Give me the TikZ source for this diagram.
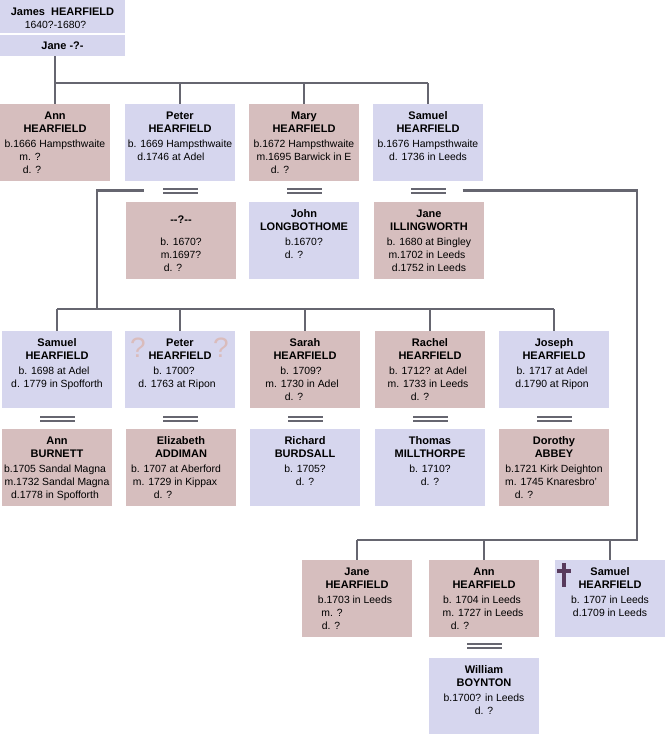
\documentclass[tikz,border=0pt]{standalone}
\usepackage{fontspec}
\setmainfont{Liberation Sans}
\usetikzlibrary{positioning}
\definecolor{GirlPink}{RGB}{214,190,190}
\definecolor{BoyBlue}{RGB}{214,214,238}
\definecolor{LineGray}{RGB}{102,102,112}
\definecolor{CrossPurple}{RGB}{88,58,92}
\definecolor{QueryPink}{RGB}{218,188,188}
\tikzset{
  pbox/.style={minimum width=110pt, minimum height=77pt, inner sep=0pt, outer sep=0pt},
  girl/.style={pbox, fill=GirlPink},
  boy/.style={pbox, fill=BoyBlue},
  pname/.style={anchor=base, inner sep=0pt, font=\bfseries\fontsize{11}{13}\selectfont},
  pinfo/.style={anchor=base, inner sep=0pt, font=\fontsize{10.4}{13}\selectfont},
  link/.style={draw=LineGray, line width=2.8pt},
  wed/.style={minimum width=35pt, minimum height=6pt, inner sep=0pt, outer sep=0pt},
  query/.style={inner sep=0pt, text=QueryPink, font=\fontsize{28}{28}\selectfont},
}
% box: name, colour, left, top, name lines, detail lines (text/shift)
\newcommand\person[6]{%
  \node[#2] (#1) at (#3+55,#4+38.5) {};
  \foreach \txt [count=\i] in {#5}
    \node[pname] (#1-n\i) at ([shift={(0,2.5+13*\i)}]#1.north) {\txt};
  \foreach \txt/\dx [count=\i] in {#6}
    \node[pinfo] (#1-d\i) at ([shift={(\dx,30.6+13*\i)}]#1.north) {\txt};
}
% double bar for a marriage
\newcommand\wedding[3]{%
  \node[wed] (#1) at (#2,#3) {};
  \fill[LineGray] (#1.north west) rectangle ([yshift=-2pt]#1.north east);
  \fill[LineGray] (#1.south west) rectangle ([yshift=2pt]#1.south east);
}

\begin{document}
\begin{tikzpicture}[x=1pt, y=-1pt]
  \useasboundingbox[fill=white] (0,0) rectangle (666,734);

  % parents
  \node[boy, minimum width=125pt, minimum height=33pt] (james) at (62.5,16.5) {};
  \node[pname] (james-n) at (62.5,15) {James\ \ HEARFIELD};
  \node[pinfo] (james-d) at (55.5,28) {1640?-1680?};
  \node[boy, minimum width=125pt, minimum height=21pt] (jane) at (62.5,45.5) {};
  \node[pname] (jane-n) at (62.5,49.5) {Jane -?-};

  % children of James
  \person{ann1}{girl}{0}{104}{Ann,HEARFIELD}{b.1666 Hampsthwaite/0,m. ?/-25,d. ?/-23}
  \person{pet1}{boy}{125}{104}{Peter,HEARFIELD}{b. 1669 Hampsthwaite/0,d.1746 at Adel/-9}
  \person{mar1}{girl}{249}{104}{Mary,HEARFIELD}{b.1672 Hampsthwaite/0,m.1695 Barwick in E/0,d. ?/-24}
  \person{sam1}{boy}{373}{104}{Samuel,HEARFIELD}{b.1676 Hampsthwaite/0,d. 1736 in Leeds/0}

  \wedding{wedP}{180}{190.5}
  \wedding{wedM}{304}{190.5}
  \wedding{wedS}{428}{190.5}

  % spouses
  \person{unk}{girl}{126}{202}{}{b. 1670?/0,m.1697?/0,d. ?/-8}
  \node[pname] (unk-q) at ([shift={(0,21)}]unk.north) {{-}{-}?{-}{-}};
  \person{lon}{boy}{249}{202}{John,LONGBOTHOME}{b.1670?/0,d. ?/-10}
  \person{ill}{girl}{374}{202}{Jane,ILLINGWORTH}{b. 1680 at Bingley/0,m.1702 in Leeds/-2,d.1752 in Leeds/0}

  % children of Peter
  \person{sam3}{boy}{2}{331}{Samuel,HEARFIELD}{b. 1698 at Adel/-3,d. 1779 in Spofforth/0}
  \person{pet3}{boy}{125}{331}{Peter,HEARFIELD}{b. 1700?/-6,d. 1763 at Ripon/-3}
  \person{sar3}{girl}{250}{331}{Sarah,HEARFIELD}{b. 1709?/-4,m. 1730 in Adel/-3,d. ?/-11}
  \person{rac3}{girl}{375}{331}{Rachel,HEARFIELD}{b. 1712? at Adel/-2,m. 1733 in Leeds/-2,d. ?/-10}
  \person{jos3}{boy}{499}{331}{Joseph,HEARFIELD}{b. 1717 at Adel/-2,d.1790 at Ripon/-2}
  \node[query] (q1) at ([shift={(13,17)}]pet3.north west) {?};
  \node[query] (q2) at ([shift={(96,17)}]pet3.north west) {?};

  \wedding{wed1}{57}{419}
  \wedding{wed2}{180}{419}
  \wedding{wed3}{305}{419}
  \wedding{wed4}{430}{419}
  \wedding{wed5}{554}{419}

  \person{bur}{girl}{2}{429}{Ann,BURNETT}{b.1705 Sandal Magna/-2,m.1732 Sandal Magna/0,d.1778 in Spofforth/-2}
  \person{add}{girl}{126}{429}{Elizabeth,ADDIMAN}{b. 1707 at Aberford/-5,m. 1729 in Kippax/-6,d. ?/-18}
  \person{brd}{boy}{250}{429}{Richard,BURDSALL}{b. 1705?/0,d. ?/0}
  \person{mil}{boy}{375}{429}{Thomas,MILLTHORPE}{b. 1710?/0,d. ?/0}
  \person{abb}{girl}{499}{429}{Dorothy,ABBEY}{b.1721 Kirk Deighton/0,m. 1745 Knaresbro'/-3,d. ?/-30}

  % children of Samuel
  \person{jan5}{girl}{302}{560}{Jane,HEARFIELD}{b.1703 in Leeds/-2,m. ?/-25,d. ?/-26}
  \person{ann5}{girl}{429}{560}{Ann,HEARFIELD}{b. 1704 in Leeds/-2,m. 1727 in Leeds/-1,d. ?/-24}
  \person{sam5}{boy}{555}{560}{Samuel,HEARFIELD}{b. 1707 in Leeds/0,d.1709 in Leeds/0}
  \fill[CrossPurple] ([shift={(7,3)}]sam5.north west) rectangle ([shift={(11,27)}]sam5.north west);
  \fill[CrossPurple] ([shift={(2,9)}]sam5.north west) rectangle ([shift={(16,13)}]sam5.north west);

  \wedding{wedA}{484.5}{646}
  \person{wil}{boy}{429}{658}{William,BOYNTON}{b.1700? in Leeds/0,d. ?/0}

  % connectors
  \coordinate (bar1) at (0,83);
  \coordinate (bar2) at (97,309);
  \coordinate (bar3) at (637,540);
  \draw[link] (jane.south -| ann1.north) -- (ann1.north);
  \draw[link] (ann1.north |- bar1) -- (sam1.north |- bar1);
  \foreach \c in {pet1,mar1,sam1}
    \draw[link] (\c.north |- bar1) -- (\c.north);

  \draw[link] ([xshift=-19pt]wedP.west) -| (bar2);
  \draw[link] (sam3.north |- bar2) -- (jos3.north |- bar2);
  \foreach \c in {sam3,pet3,sar3,rac3,jos3}
    \draw[link] (\c.north |- bar2) -- (\c.north);

  \draw[link] ([xshift=17pt]wedS.east) -| (bar3) -- (jan5.north |- bar3);
  \foreach \c in {jan5,ann5,sam5}
    \draw[link] (\c.north |- bar3) -- (\c.north);
\end{tikzpicture}
\end{document}
